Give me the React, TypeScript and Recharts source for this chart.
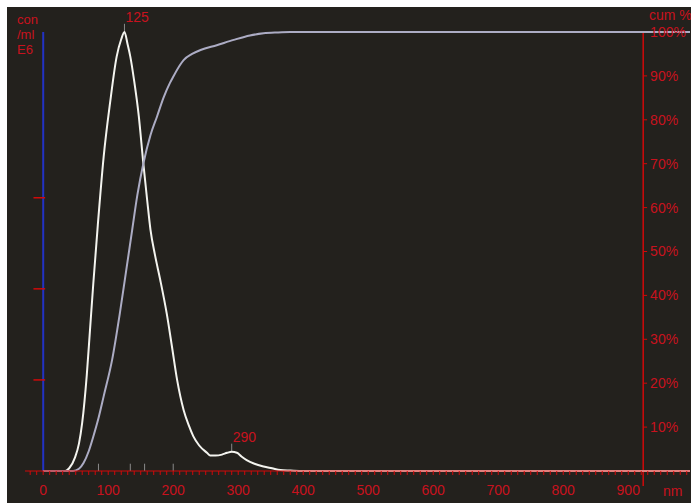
import { LineChart, Line, XAxis, YAxis, ReferenceLine } from 'recharts'

// size distribution (concentration, E6 particles/ml, arbitrary scale)
const distNm = [0, 30, 34, 40, 49, 55, 60, 67, 72, 77, 84, 93, 103, 113, 120, 125, 130, 134, 140, 147, 154, 160, 165, 172, 180, 190, 198, 206, 216, 224, 231, 240, 252, 257, 265, 275, 283, 290, 298, 305, 313, 325, 339, 352, 365, 380, 400, 995]
const distConc = [0, 0, 0, 0.03, 0.15, 0.3, 0.53, 1.05, 1.55, 2.05, 2.7, 3.45, 4.05, 4.55, 4.74, 4.82, 4.68, 4.55, 4.28, 3.9, 3.38, 2.97, 2.65, 2.37, 2.1, 1.73, 1.37, 1.0, 0.67, 0.5, 0.38, 0.28, 0.2, 0.17, 0.17, 0.18, 0.2, 0.21, 0.2, 0.16, 0.12, 0.08, 0.05, 0.03, 0.01, 0.005, 0, 0]

// cumulative %
const cumNm = [0, 46, 55, 62, 70, 77, 85, 93, 106, 118, 129, 136, 145, 154, 165, 175, 185, 195, 200, 211, 216, 229, 242, 267, 293, 318, 339, 360, 380, 995]
const cumPct = [0, 0, 0.5, 1.8, 4.5, 7.8, 12, 17, 25.3, 36, 47, 54, 63, 70, 76.5, 80.7, 85, 88.4, 89.8, 92.6, 93.6, 95, 95.9, 97, 98.2, 99.2, 99.7, 99.9, 100, 100]

const peakNm = [125, 290]
const peakConc = [4.82, 0.21]
const statNm = [85, 134, 156, 200]

const xLabels = [0, 100, 200, 300, 400, 500, 600, 700, 800, 900]
const xMinor = Array.from({ length: 102 }, (_, i) => -20 + i * 10)
const concTicks = [1, 2, 3]
const pctTicks = [10, 20, 30, 40, 50, 60, 70, 80, 90, 100]
const rightAxisNm = 923

const distData = distNm.map((nm, i) => ({ nm, v: distConc[i] }))
const cumData = cumNm.map((nm, i) => ({ nm, v: cumPct[i] }))

const BG = '#23211d'
const TXT = '#c8121e'
const AXIS = '#d00a0a'
const BLUE = '#2232c4'
const GREY = '#8a8a8a'
const FONT = '"Liberation Sans", Arial, sans-serif'

function XTick({ x, y, payload }: any) {
  const v = payload.value
  if (!xLabels.includes(v)) return <g />
  return (
    <text x={x} y={y + 13} dy="0.35em" textAnchor="middle" fill={TXT} fontSize={14} fontFamily={FONT}>
      {v}
    </text>
  )
}

const peakLabel = (text: string) => (props: any) => {
  const vb = props.viewBox
  return (
    <text x={vb.x + 1} y={vb.y - 2} fill={TXT} fontSize={14} fontFamily={FONT}>
      {text}
    </text>
  )
}

export default function App() {
  return (
    <div style={{ position: 'absolute', left: 7, top: 7, width: 684, height: 496, background: BG, fontFamily: FONT }}>
      <LineChart width={684} height={496} margin={{ top: 25, right: 1, bottom: 2, left: 18 }}>
        <XAxis
          dataKey="nm"
          type="number"
          domain={[-28, 995]}
          ticks={xMinor}
          interval={0}
          height={30}
          tickSize={4}
          axisLine={{ stroke: AXIS }}
          tickLine={{ stroke: AXIS }}
          tick={(p: any) => <XTick {...p} />}
        />
        <YAxis yAxisId="conc" domain={[0, 4.82]} hide />
        <YAxis yAxisId="pct" orientation="right" domain={[0, 100]} hide />

        <ReferenceLine yAxisId="conc" x={0} stroke={BLUE} strokeWidth={2} />
        {concTicks.map((t) => (
          <ReferenceLine key={'c' + t} yAxisId="conc" segment={[{ x: -15, y: t }, { x: 3, y: t }]} stroke={AXIS} strokeWidth={1.5} ifOverflow="visible" />
        ))}

        <ReferenceLine yAxisId="pct" segment={[{ x: rightAxisNm, y: 100 }, { x: rightAxisNm, y: -3.4 }]} stroke={AXIS} strokeWidth={1.5} ifOverflow="visible" />
        {pctTicks.map((t) => (
          <ReferenceLine
            key={'p' + t}
            yAxisId="pct"
            segment={[{ x: rightAxisNm, y: t }, { x: rightAxisNm + 6, y: t }]}
            stroke={AXIS}
            ifOverflow="visible"
            label={{ value: `${t}%`, position: 'right', offset: 3, fill: TXT, fontSize: 14 }}
          />
        ))}

        {statNm.map((s) => (
          <ReferenceLine key={'s' + s} yAxisId="conc" segment={[{ x: s, y: 0 }, { x: s, y: 0.08 }]} stroke={GREY} ifOverflow="visible" />
        ))}
        {peakNm.map((p, i) => (
          <ReferenceLine
            key={'k' + p}
            yAxisId="conc"
            segment={[{ x: p, y: peakConc[i] }, { x: p, y: peakConc[i] + 0.09 }]}
            stroke={GREY}
            ifOverflow="visible"
            label={peakLabel(String(p))}
          />
        ))}

        <Line yAxisId="conc" data={distData} dataKey="v" type="monotone" stroke="#f4f4ef" strokeWidth={2} dot={false} activeDot={false} isAnimationActive={false} />
        <Line yAxisId="pct" data={cumData} dataKey="v" type="monotone" stroke="#acacc4" strokeWidth={2} dot={false} activeDot={false} isAnimationActive={false} />
      </LineChart>

      <svg width={684} height={496} style={{ position: 'absolute', left: 0, top: 0, pointerEvents: 'none' }} fontFamily={FONT} fontSize={13} fill={TXT}>
        <text x={10} y={17}>con</text>
        <text x={10} y={32}>/ml</text>
        <text x={10} y={47}>E6</text>
        <text x={642} y={13} fontSize={14}>cum %</text>
        <text x={656} y={489} fontSize={14}>nm</text>
      </svg>
    </div>
  )
}
